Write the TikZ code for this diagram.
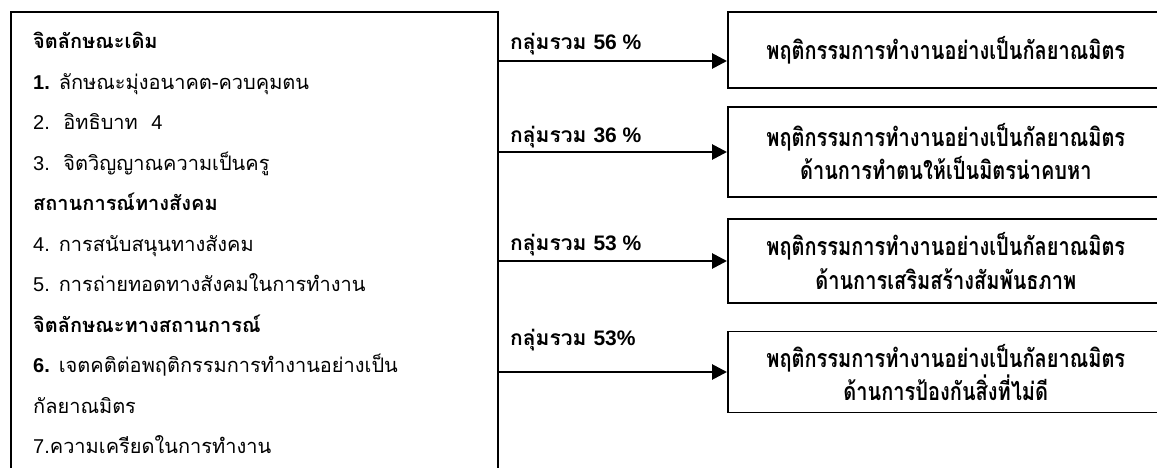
\documentclass[tikz,border=0pt]{standalone}
\usepackage{fontspec}
\newfontfamily\thai[Script=Thai]{Loma}
\newfontfamily\thaicond[Script=Thai,FakeStretch=0.8]{Loma}
\newfontfamily\lat{Liberation Sans}
\usetikzlibrary{arrows.meta, positioning}

\tikzstyle{factor} = [rectangle, draw=black, line width=1.6pt, minimum width=487pt, minimum height=470pt, anchor=north west]
\tikzstyle{outcome} = [rectangle, draw=black, line width=1.6pt, minimum width=436pt, anchor=west, align=center, font=\thaicond\bfseries\fontsize{25}{33}\selectfont]
\tikzstyle{group} = [anchor=west, inner sep=0pt, font=\thai\bfseries\fontsize{21}{22}\selectfont]
\tikzstyle{arrow} = [line width=2.8pt, -{Triangle[length=15pt,width=15pt]}]

\begin{document}
\begin{tikzpicture}[x=1pt, y=-1pt]
\useasboundingbox (0,0) rectangle (1157,468);

\node (src) [factor] at (10,11) {};

\node (traits) [anchor=north west, align=left, inner sep=0pt, font=\thai\fontsize{20}{40.5}\selectfont] at (33,32) {\textbf{จิตลักษณะเดิม}\\
{\lat\bfseries 1.} ลักษณะมุ่งอนาคต-ควบคุมตน\\
{\lat 2.}\ \ อิทธิบาท\ \ {\lat 4}\\
{\lat 3.}\ \ จิตวิญญาณความเป็นครู\\
\textbf{สถานการณ์ทางสังคม}\\
{\lat 4.} การสนับสนุนทางสังคม\\
{\lat 5.} การถ่ายทอดทางสังคมในการทำงาน\\
\textbf{จิตลักษณะทางสถานการณ์}\\
{\lat\bfseries 6.} เจตคติต่อพฤติกรรมการทำงานอย่างเป็น\\
กัลยาณมิตร\\
{\lat 7.}ความเครียดในการทำงาน};

%outcome boxes
\node (out1) [outcome, minimum height=76pt] at (727,50) {พฤติกรรมการทำงานอย่างเป็นกัลยาณมิตร};
\node (out2) [outcome, minimum height=90pt] at (727,152) {พฤติกรรมการทำงานอย่างเป็นกัลยาณมิตร\\ ด้านการทำตนให้เป็นมิตรน่าคบหา};
\node (out3) [outcome, minimum height=84pt] at (727,261) {พฤติกรรมการทำงานอย่างเป็นกัลยาณมิตร\\ ด้านการเสริมสร้างสัมพันธภาพ};
\node (out4) [outcome, minimum height=81pt] at (727,372) {พฤติกรรมการทำงานอย่างเป็นกัลยาณมิตร\\ ด้านการป้องกันสิ่งที่ไม่ดี};

\node (g1) [group] at (510,44) {กลุ่มรวม {\lat 56 \%}};
\node (g2) [group] at (510,137) {กลุ่มรวม {\lat 36 \%}};
\node (g3) [group] at (510,245) {กลุ่มรวม {\lat 53 \%}};
\node (g4) [group] at (510,340) {กลุ่มรวม {\lat 53\%}};

\draw [arrow] (src.east |- 0,61) -- ([yshift=-11pt]out1.west);
\draw [arrow] (src.east |- out2.west) -- (out2.west);
\draw [arrow] (src.east |- out3.west) -- (out3.west);
\draw [arrow] (src.east |- out4.west) -- (out4.west);

\end{tikzpicture}
\end{document}
